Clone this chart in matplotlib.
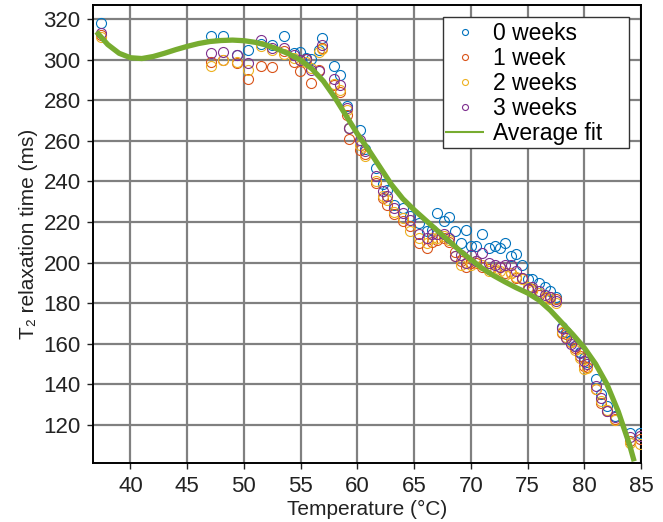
import matplotlib
matplotlib.use("Agg")
import matplotlib.pyplot as plt
from matplotlib.patches import Rectangle
import numpy as np

# 測定温度 (°C) : 全系列で共通
temps = [37.4, 47.1, 48.2, 49.4, 50.4, 51.5, 52.5, 53.5, 54.4, 54.9,
         55.5, 55.9, 56.6, 56.9, 57.9, 58.5, 59.1, 59.3, 60.2, 60.7,
         61.6, 62.3, 62.6, 63.2, 64.0, 64.6, 65.4, 66.1, 66.6, 67.0,
         67.6, 68.1, 68.6, 69.1, 69.6, 70.0, 70.5, 71.0, 71.6, 72.1,
         72.6, 73.0, 73.5, 74.0, 74.5, 75.0, 75.4, 76.0, 76.5, 77.0,
         77.5, 78.0, 78.4, 78.8, 79.2, 79.6, 80.0, 80.2, 81.0, 81.5,
         82.0, 82.7, 84.0, 84.95]

# T2緩和時間 (ms)
week0 = [318, 311.5, 311.5, 302.5, 304.6, 308, 307.4, 311.9, 303.3, 304,
         300.9, 300.5, 305, 310.7, 296.8, 292.7, 277, 266.5, 265.2, 256,
         246.5, 238.5, 236, 228.5, 227, 223, 219.6, 215.5, 216, 224.5,
         220.4, 222.5, 215.5, 209.8, 216.3, 208.2, 208.2, 213.9, 207.3, 208.2,
         207, 209.8, 203.3, 204, 199, 192, 191.7, 190, 188, 186,
         183, 168, 166, 162, 159, 156, 153, 151, 142.4, 135,
         129.3, 124.3, 116.2, 116.2]
week1 = [312, 299, 300, 298.4, 290.7, 296.8, 296.4, 304.5, 299, 294.3,
         300.5, 288.6, 295, 306, 287.4, 284, 273, 261, 255.7, 253.3,
         239.3, 232, 228.6, 223.7, 220.4, 218, 209.8, 207.3, 210, 211,
         212, 210, 205, 201, 198, 200, 200, 198, 197, 196,
         198, 195, 195, 192.5, 192.5, 186.8, 187, 184, 182.7, 183,
         181.9, 165.5, 164.6, 160.6, 158, 154, 149, 148.5, 137.5, 130.9,
         127, 123, 112, 112.8]
week2 = [311, 297, 300, 299, 295, 307, 305, 303, 301, 300,
         299, 296, 304, 305.5, 288, 285, 275, 266.4, 258, 252.4,
         240, 233, 231, 225, 222, 215.5, 212, 209.5, 212, 212,
         213, 211, 203, 199, 200, 199, 201, 199, 196, 197,
         196, 194, 195, 193, 192, 188, 186, 185, 183, 182,
         180, 166, 163.5, 161, 157, 153, 147.3, 148, 137.5, 131.5,
         127.5, 122.5, 111.2, 110.3]
week3 = [313, 303.3, 304, 302.5, 298.4, 309.9, 306, 305.8, 302.5, 300,
         300.5, 295, 294.5, 307.4, 290.7, 287.4, 276, 266.5, 260.6, 255,
         242.6, 235.5, 233, 227, 224.6, 221, 214, 212, 213.9, 214,
         214, 212, 203.3, 203.8, 200, 203.8, 201, 204.8, 200, 199,
         198, 198.6, 198.6, 195.8, 192.5, 186.8, 188, 186, 184, 183,
         181, 167.9, 163, 159.6, 158.8, 155.6, 151.4, 150, 139, 133,
         127, 124, 113.8, 114.6]

# 平均値のフィット曲線
fit_t = [37.0, 38, 39, 40, 41, 42, 43, 44, 45, 46, 47, 48, 49, 50, 51,
         52, 53, 54, 55, 56, 57, 58, 59, 60, 61, 62, 63, 64, 65, 66,
         67, 68, 69, 70, 71, 72, 73, 74, 75, 76, 77, 78, 79, 80, 81,
         82, 83, 84, 84.4]
fit_v = [313.8, 307.5, 303.2, 301, 300.6, 301.6, 303.2, 305, 306.6, 308, 309, 309.5, 309.7, 309.4, 308.6,
         307.2, 305.2, 302.8, 299.8, 295.5, 289.5, 281.5, 272.5, 263.5, 255.5, 247, 238.5, 231.5, 226, 221,
         216, 211, 206, 201.5, 197.2, 193.6, 190.5, 187.6, 185, 181.5, 176.5, 170.5, 164.5, 158, 150,
         140, 126.5, 110, 102]

labels = ["0 weeks", "1 week", "2 weeks", "3 weeks"]
colors = ["#0072BD", "#D95319", "#EDB120", "#7E2F8E"]

plt.rcParams["font.family"] = ["Liberation Sans", "DejaVu Sans"]
plt.rcParams["font.size"] = 15

fig = plt.figure(figsize=(6.63, 5.22), dpi=100)
ax = fig.add_axes([0.1403, 0.1124, 0.8265, 0.878])

for vals, lab, col in zip([week0, week1, week2, week3], labels, colors):
    ax.plot(temps, vals, linestyle="none", marker="o", markersize=7.2,
            markerfacecolor="none", markeredgecolor=col, markeredgewidth=0.8,
            label=lab, zorder=3)
ax.plot(fit_t, fit_v, color="#77AC30", linewidth=3.8, label="Average fit",
        solid_capstyle="butt", zorder=4)

ax.set_xlim(36.7, 85)
ax.set_ylim(101, 327)
ax.set_xticks(np.arange(40, 86, 5))
ax.set_yticks(np.arange(120, 321, 20))
ax.grid(True, color="#808080", linewidth=1.6)
ax.set_axisbelow(True)
ax.tick_params(direction="out", length=4, width=1, pad=5, colors="#222222",
               labelsize=16, labelcolor="#222222")
for sp in ax.spines.values():
    sp.set_linewidth(1.4)
    sp.set_color("black")

ax.set_xlabel("Temperature (°C)", fontsize=15, labelpad=2, color="#222222")
ax.set_ylabel("T₂ relaxation time (ms)", fontsize=15, labelpad=4, color="#222222")

# 凡例: 枠は別に描く (右側に余白を残すため)
leg_box = Rectangle((0.6387, 0.6884), 0.978 - 0.6387, 0.973 - 0.6884,
                    transform=ax.transAxes, facecolor="white",
                    edgecolor="#333333", linewidth=1, zorder=5)
ax.add_patch(leg_box)
leg = ax.legend(loc="upper left", bbox_to_anchor=(0.643, 0.962), fontsize=16.5,
                markerscale=0.6, handlelength=1.7, handletextpad=0.4,
                borderpad=0.0, borderaxespad=0, labelspacing=0.08,
                frameon=False)
leg.set_zorder(6)
for h in leg.get_lines()[4:]:
    h.set_linewidth(1.5)

fig.savefig("out.png", dpi=100)
